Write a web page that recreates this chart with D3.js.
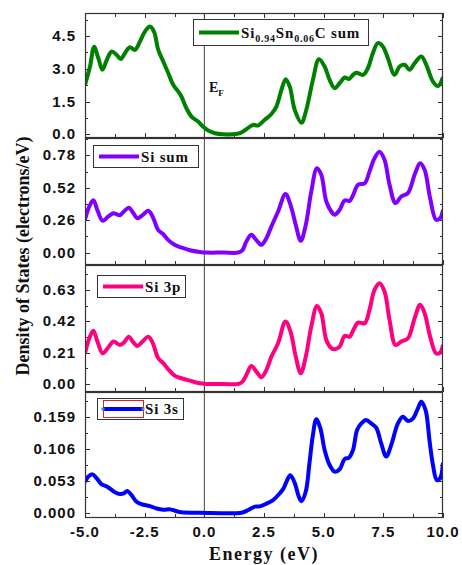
<!DOCTYPE html>
<html><head><meta charset="utf-8">
<script src="https://cdn.jsdelivr.net/npm/d3@7"></script>
<style>body{margin:0;background:#fff}</style>
</head><body>
<script>
// ---------------- DATA ----------------
const xTicks = [-5, -2.5, 0, 2.5, 5, 7.5, 10];
const xTickLabels = ["-5.0", "-2.5", "0.0", "2.5", "5.0", "7.5", "10.0"];

const totalE = [-5,-4.79,-4.62,-4.44,-4.27,-4.09,-3.88,-3.67,-3.5,-3.33,-3.12,-2.91,-2.7,-2.49,-2.28,-2.11,-1.93,-1.72,-1.51,-1.3,-1.09,-0.96,-0.75,-0.54,-0.26,-0.05,0.16,0.44,0.8,1.2,1.49,1.76,2.04,2.25,2.53,2.81,3.02,3.23,3.41,3.58,3.79,4.07,4.27,4.55,4.8,5.04,5.25,5.46,5.67,5.88,6.06,6.23,6.37,6.65,6.85,7.06,7.27,7.48,7.69,7.97,8.18,8.39,8.6,8.81,9.09,9.3,9.58,9.79,10];
const totalDOS = [2.26,3.1,4.0,3.48,2.95,3.4,3.79,3.63,3.44,3.71,3.98,3.86,4.24,4.70,4.93,4.70,3.86,3.33,2.79,2.26,1.95,1.73,1.19,0.81,0.58,0.35,0.17,0.05,0,0,0.05,0.23,0.43,0.4,0.66,0.93,1.27,2.03,2.52,2.18,1.11,0.53,1.11,2.49,3.43,3.1,2.49,2.11,2.34,2.6,2.53,2.72,2.82,2.72,3.02,3.71,4.17,4.02,3.48,2.72,3.1,3.18,2.95,3.25,3.56,3.18,2.41,2.21,2.61];

const siE = [-5,-4.82,-4.65,-4.48,-4.26,-4.02,-3.81,-3.54,-3.37,-3.16,-3.0,-2.81,-2.59,-2.35,-2.17,-1.93,-1.72,-1.51,-1.23,-0.96,-0.61,-0.19,0.09,0.8,1.42,1.6,1.76,1.97,2.18,2.39,2.6,2.81,3.09,3.4,3.61,3.83,4.04,4.25,4.48,4.72,4.9,5.11,5.32,5.46,5.67,5.88,6.09,6.23,6.44,6.72,6.92,7.13,7.34,7.55,7.76,8.01,8.25,8.53,8.81,9.04,9.23,9.46,9.71,9.88,10];
const siSumDOS = [0.263,0.37,0.42,0.34,0.255,0.29,0.316,0.30,0.33,0.36,0.324,0.276,0.30,0.335,0.29,0.18,0.147,0.10,0.06,0.04,0.019,0.005,0,0,0,0.02,0.088,0.142,0.10,0.062,0.115,0.21,0.33,0.47,0.383,0.222,0.094,0.222,0.49,0.678,0.624,0.41,0.33,0.303,0.343,0.418,0.415,0.46,0.544,0.557,0.65,0.758,0.81,0.745,0.544,0.397,0.45,0.477,0.624,0.718,0.665,0.437,0.263,0.276,0.343];
const si3pDOS = [0.205,0.306,0.357,0.284,0.205,0.246,0.284,0.261,0.277,0.317,0.284,0.255,0.284,0.317,0.277,0.172,0.139,0.098,0.054,0.038,0.022,0.004,0,0,0,0.016,0.06,0.12,0.083,0.045,0.094,0.183,0.273,0.418,0.351,0.183,0.071,0.183,0.384,0.523,0.474,0.295,0.24,0.232,0.25,0.322,0.317,0.357,0.411,0.407,0.496,0.63,0.675,0.619,0.429,0.261,0.284,0.306,0.44,0.53,0.474,0.317,0.205,0.21,0.261];

const s3sE = [-5,-4.86,-4.68,-4.51,-4.3,-4.07,-3.74,-3.53,-3.37,-3.23,-3.05,-2.84,-2.63,-2.28,-2.0,-1.72,-1.44,-1.23,-0.96,-0.19,1.56,1.84,2.12,2.32,2.6,2.88,3.09,3.3,3.44,3.6,3.79,3.96,4.07,4.25,4.41,4.55,4.69,4.86,5.04,5.25,5.46,5.67,5.88,6.06,6.23,6.4,6.58,6.78,6.99,7.2,7.41,7.62,7.83,8.11,8.32,8.53,8.74,8.95,9.09,9.27,9.44,9.58,9.74,9.88,10];
const si3sDOS = [0.051,0.06,0.0635,0.057,0.047,0.043,0.034,0.031,0.032,0.036,0.029,0.018,0.014,0.011,0.007,0.005,0.0055,0.0033,0.0006,0,0,0.0044,0.01,0.0105,0.015,0.021,0.029,0.039,0.051,0.062,0.049,0.0265,0.019,0.035,0.084,0.129,0.155,0.14,0.104,0.079,0.068,0.072,0.089,0.091,0.104,0.137,0.148,0.1535,0.148,0.141,0.115,0.093,0.112,0.148,0.159,0.152,0.156,0.173,0.184,0.17,0.118,0.079,0.054,0.057,0.083];

const panelNames = ["total", "siSum", "si3p", "si3s"];
const panelColors = ["#008000", "#8000ff", "#ff0080", "#0000ff"];
const yTickValues = [[0, 1.5, 3.0, 4.5], [0, 0.26, 0.52, 0.78], [0, 0.21, 0.42, 0.63], [0, 0.053, 0.106, 0.159]];
const yTickLabels = [["0.0","1.5","3.0","4.5"], ["0.00","0.26","0.52","0.78"], ["0.00","0.21","0.42","0.63"], ["0.000","0.053","0.106","0.159"]];
const yDomains = [[-0.17, 5.55], [-0.1, 0.92], [-0.054, 0.797], [-0.0088, 0.2]];

// ---------------- LAYOUT ----------------
const W = 462, H = 565;
const L = 85, R = 443;
const panelTops = [13, 138, 265, 392];
const panelBottoms = [138, 265, 392, 518];

const svg = d3.select("body").append("svg").attr("width", W).attr("height", H);
const x = d3.scaleLinear().domain([-5, 10]).range([L, R]);

const series = [
  {E: totalE, D: totalDOS},
  {E: siE, D: siSumDOS},
  {E: siE, D: si3pDOS},
  {E: s3sE, D: si3sDOS}
];

const tickFont = "'Liberation Sans', Arial, sans-serif";
const serif = "'Liberation Serif', 'Times New Roman', serif";

panelNames.forEach((name, i) => {
  const top = panelTops[i], bot = panelBottoms[i];
  const y = d3.scaleLinear().domain(yDomains[i]).range([bot, top]);
  const g = svg.append("g");
  g.append("clipPath").attr("id", "clip" + i)
    .append("rect").attr("x", L).attr("y", top).attr("width", R - L).attr("height", bot - top);

  const step = yTickValues[i][1] - yTickValues[i][0];
  const minorVals = [];
  for (let v = 0; v <= yDomains[i][1] + 1e-9; v += step / 2) minorVals.push(v);
  minorVals.forEach((v, k) => {
    const len = (k % 2 === 0) ? 5 : 3;
    const yy = Math.round(y(v)) + 0.5;
    g.append("line").attr("x1", L).attr("x2", L + len).attr("y1", yy).attr("y2", yy).attr("stroke", "#333").attr("stroke-width", 1);
    g.append("line").attr("x1", R).attr("x2", R - len).attr("y1", yy).attr("y2", yy).attr("stroke", "#333").attr("stroke-width", 1);
  });
  const xMinor = d3.range(-5, 10.001, 1.25);
  xMinor.forEach((v, k) => {
    const len = (k % 2 === 0) ? 5 : 4;
    const xx = Math.round(x(v)) + 0.5;
    g.append("line").attr("x1", xx).attr("x2", xx).attr("y1", bot).attr("y2", bot - len).attr("stroke", "#333");
    if (i === 0) g.append("line").attr("x1", xx).attr("x2", xx).attr("y1", top).attr("y2", top + len).attr("stroke", "#333");
  });

  yTickValues[i].forEach((v, k) => {
    g.append("text").attr("x", 76).attr("y", y(v) + 5)
      .attr("text-anchor", "end")
      .style("font-family", tickFont).style("font-weight", "bold").style("font-size", "15px")
      .style("letter-spacing", "1px")
      .attr("fill", "#111").text(yTickLabels[i][k]);
  });

  g.append("line").attr("x1", x(0)).attr("x2", x(0)).attr("y1", top).attr("y2", bot).attr("stroke", "#444").attr("stroke-width", 1);

  const line = d3.line().x((d, k) => x(series[i].E[k])).y(d => y(d)).curve(d3.curveCatmullRom.alpha(0.5));
  g.append("path").datum(series[i].D).attr("d", line)
    .attr("fill", "none").attr("stroke", panelColors[i]).attr("stroke-width", 4)
    .attr("stroke-linejoin", "round").attr("clip-path", "url(#clip" + i + ")");

  g.append("rect").attr("x", L + 0.5).attr("y", top + 0.5).attr("width", R - L - 1).attr("height", bot - top - 1)
    .attr("fill", "none").attr("stroke", "#333").attr("stroke-width", 1.2);
});

xTicks.forEach((v, k) => {
  svg.append("text").attr("x", x(v)).attr("y", 537).attr("text-anchor", "middle")
    .style("font-family", tickFont).style("font-weight", "bold").style("font-size", "15px")
    .style("letter-spacing", "1px").attr("fill", "#111").text(xTickLabels[k]);
});

svg.append("text").attr("x", 264).attr("y", 560).attr("text-anchor", "middle")
  .style("font-family", serif).style("font-weight", "bold").style("font-size", "18px")
  .style("letter-spacing", "1.5px").attr("fill", "#111").text("Energy (eV)");
svg.append("text").attr("transform", "translate(29,256) rotate(-90)").attr("text-anchor", "middle")
  .style("font-family", serif).style("font-weight", "bold").style("font-size", "18px")
  .attr("fill", "#111").text("Density of States (electrons/eV)");

const ef = svg.append("text").attr("x", 209).attr("y", 92)
  .style("font-family", serif).style("font-size", "14px").style("font-weight", "bold").attr("fill", "#111");
ef.append("tspan").text("E");
ef.append("tspan").attr("dy", 4).style("font-size", "9px").text("F");

const legends = [
  {x0: 193, y0: 19, w: 175, h: 26},
  {x0: 93, y0: 145, w: 105, h: 22},
  {x0: 97, y0: 275, w: 88, h: 22},
  {x0: 97, y0: 398, w: 86, h: 21}
];
legends.forEach((lg, i) => {
  const g = svg.append("g");
  g.append("rect").attr("x", lg.x0 + 0.5).attr("y", lg.y0 + 0.5).attr("width", lg.w).attr("height", lg.h)
    .attr("fill", "#fff").attr("stroke", "#333").attr("stroke-width", 1);
  const cy = lg.y0 + lg.h / 2 + 0.5;
  const lx0 = lg.x0 + 6, lx1 = lg.x0 + 46;
  if (i === 3) {
    g.append("rect").attr("x", lg.x0 + 6.5).attr("y", lg.y0 + 2.5).attr("width", 40).attr("height", lg.h - 4)
      .attr("fill", "none").attr("stroke", "#e02020").attr("stroke-width", 1);
  }
  g.append("line").attr("x1", lx0).attr("x2", lx1).attr("y1", cy).attr("y2", cy)
    .attr("stroke", panelColors[i]).attr("stroke-width", 4);
  if (i === 3) {
    [lx0, lx1].forEach(px => g.append("rect").attr("x", px - 1.5).attr("y", cy - 1.5).attr("width", 3).attr("height", 3).attr("fill", "#30a0a0"));
  }
  const t = g.append("text").attr("x", lx1 + 2).attr("y", cy + 5)
    .style("font-family", serif).style("font-weight", "bold").style("font-size", "15px")
    .style("letter-spacing", "0.8px").attr("fill", "#111");
  if (i === 0) {
    t.append("tspan").text("Si");
    t.append("tspan").attr("dy", 4).style("font-size", "10px").text("0.94");
    t.append("tspan").attr("dy", -4).text("Sn");
    t.append("tspan").attr("dy", 4).style("font-size", "10px").text("0.06");
    t.append("tspan").attr("dy", -4).text("C sum");
  } else {
    t.text(["", "Si sum", "Si 3p", "Si 3s"][i]);
  }
});
</script>
</body></html>
